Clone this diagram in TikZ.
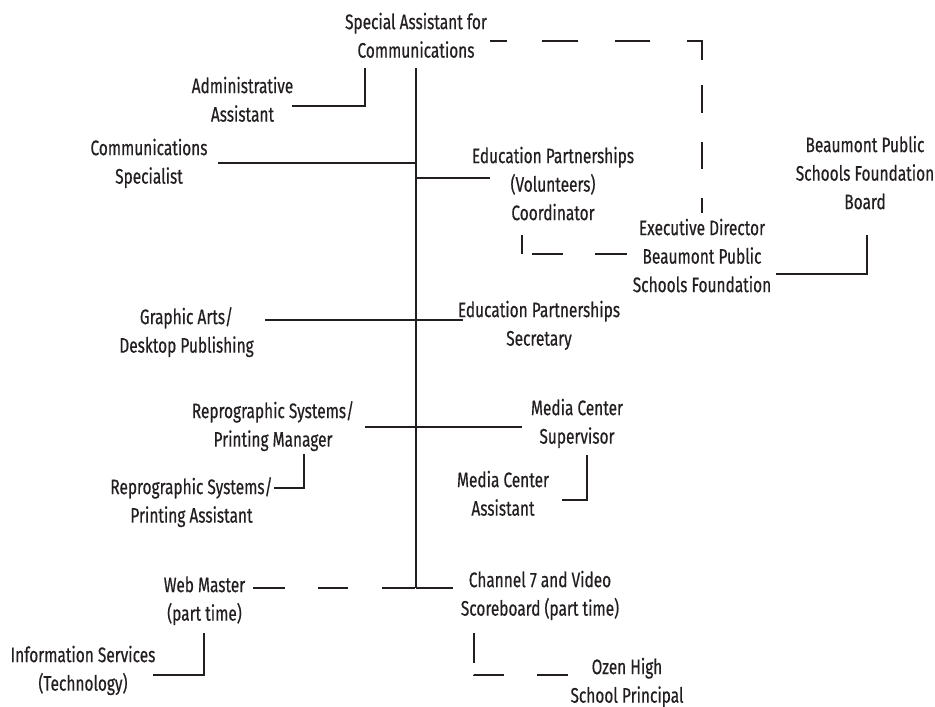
\documentclass[tikz,border=0pt]{standalone}
\usepackage{fontspec}
\setmainfont{Fira Sans}[FakeStretch=0.735, FakeBold=0.5]
\definecolor{ink}{HTML}{231F20}
\tikzset{
  unit/.style={font=\fontsize{21}{28.5}\selectfont, align=center,
               inner sep=0pt, anchor=north, text=ink},
  link/.style={draw=ink, line width=1.2pt},
  dashSA/.style={link, dash pattern=on 17pt off 35pt on 36pt off 37pt on 35pt off 37pt
                 on 34pt off 25pt on 28pt off 29pt on 27pt off 29pt on 15pt off 60pt},
  dashCoord/.style={link, dash pattern=on 19pt off 10pt on 31pt off 32pt on 32pt off 60pt},
  dashWeb/.style={link, dash pattern=on 32pt off 33pt on 30pt off 34pt on 33pt off 60pt},
  dashOzen/.style={link, dash pattern=on 30pt off 12pt on 30pt off 33pt on 31pt off 60pt},
}
\begin{document}
\begin{tikzpicture}[x=1pt, y=-1pt]
\useasboundingbox (0,0) rectangle (935,707);

% positions
\node[unit] (sa)    at (416,9)     {\strut Special Assistant for\\\strut Communications};
\node[unit] (admin) at (242.5,73)  {\strut Administrative\\\strut Assistant};
\node[unit] (comm)  at (149,135)   {\strut Communications\\\strut Specialist};
\node[unit] (edv)   at (553,143)   {\strut Education Partnerships\\\strut (Volunteers)\\\strut Coordinator};
\node[unit] (board) at (865,132)   {\strut Beaumont Public\\\strut Schools Foundation\\\strut Board};
\node[unit] (ed)    at (702,215)   {\strut Executive Director\\\strut Beaumont Public\\\strut Schools Foundation};
\node[unit] (ga)    at (186.5,304) {\strut Graphic Arts/\\\strut Desktop Publishing};
\node[unit] (eds)   at (539,297)   {\strut Education Partnerships\\\strut Secretary};
\node[unit] (rpm)   at (273,398)   {\strut Reprographic Systems/\\\strut Printing Manager};
\node[unit] (mcs)   at (577,395)   {\strut Media Center\\\strut Supervisor};
\node[unit] (rpa)   at (191.5,474) {\strut Reprographic Systems/\\\strut Printing Assistant};
\node[unit] (mca)   at (503,467)   {\strut Media Center\\\strut Assistant};
\node[unit] (web)   at (204.5,572) {\strut Web Master\\\strut (part time)};
\node[unit] (ch7)   at (540,567)   {\strut Channel 7 and Video\\\strut Scoreboard (part time)};
\node[unit] (info)  at (83,642)    {\strut Information Services\\\strut (Technology)};
\node[unit] (ozen)  at (627,654)   {\strut Ozen High\\\strut School Principal};

% connector end points and corners
\coordinate (trunkTop) at (416,68);
\coordinate (trunkBot) at (416,588);
\coordinate (adminA) at (292,106);
\coordinate (adminB) at (365,68);
\coordinate (commA)  at (218,163);
\coordinate (edvA)   at (490,178);
\coordinate (saA)    at (490,41);
\coordinate (edTop)  at (702,213);
\coordinate (coordA) at (522,235);
\coordinate (edLeft) at (627,254);
\coordinate (edRight) at (776,274);
\coordinate (boardA) at (867,235);
\coordinate (gaA)    at (265,320);
\coordinate (edsA)   at (463,320);
\coordinate (rpmA)   at (365,427);
\coordinate (mcsA)   at (522,427);
\coordinate (rpmB)   at (304,454);
\coordinate (rpaA)   at (274,488);
\coordinate (mcsB)   at (587,455);
\coordinate (mcaA)   at (562,500);
\coordinate (webA)   at (253,588);
\coordinate (ch7A)   at (453,588);
\coordinate (webB)   at (204,633);
\coordinate (infoA)  at (153,675);
\coordinate (ch7B)   at (474,633);
\coordinate (ozenA)  at (568,675);

% solid reporting lines
\draw[link] (trunkTop) -- (trunkBot);
\draw[link] (adminA) -| (adminB);
\draw[link] (commA) -- (commA -| trunkTop);
\draw[link] (edvA -| trunkTop) -- (edvA);
\draw[link] (gaA) -- (edsA);
\draw[link] (rpmA) -- (mcsA);
\draw[link] (rpmB) |- (rpaA);
\draw[link] (mcsB) |- (mcaA);
\draw[link] (trunkBot) -- (ch7A);
\draw[link] (webB) |- (infoA);
\draw[link] (edRight) -| (boardA);

% dashed (advisory) lines
\draw[dashSA] (saA) -| (edTop);
\draw[dashCoord] (coordA) |- (edLeft);
\draw[dashWeb] (webA) -- (trunkBot);
\draw[dashOzen] (ch7B) |- (ozenA);
\end{tikzpicture}
\end{document}
